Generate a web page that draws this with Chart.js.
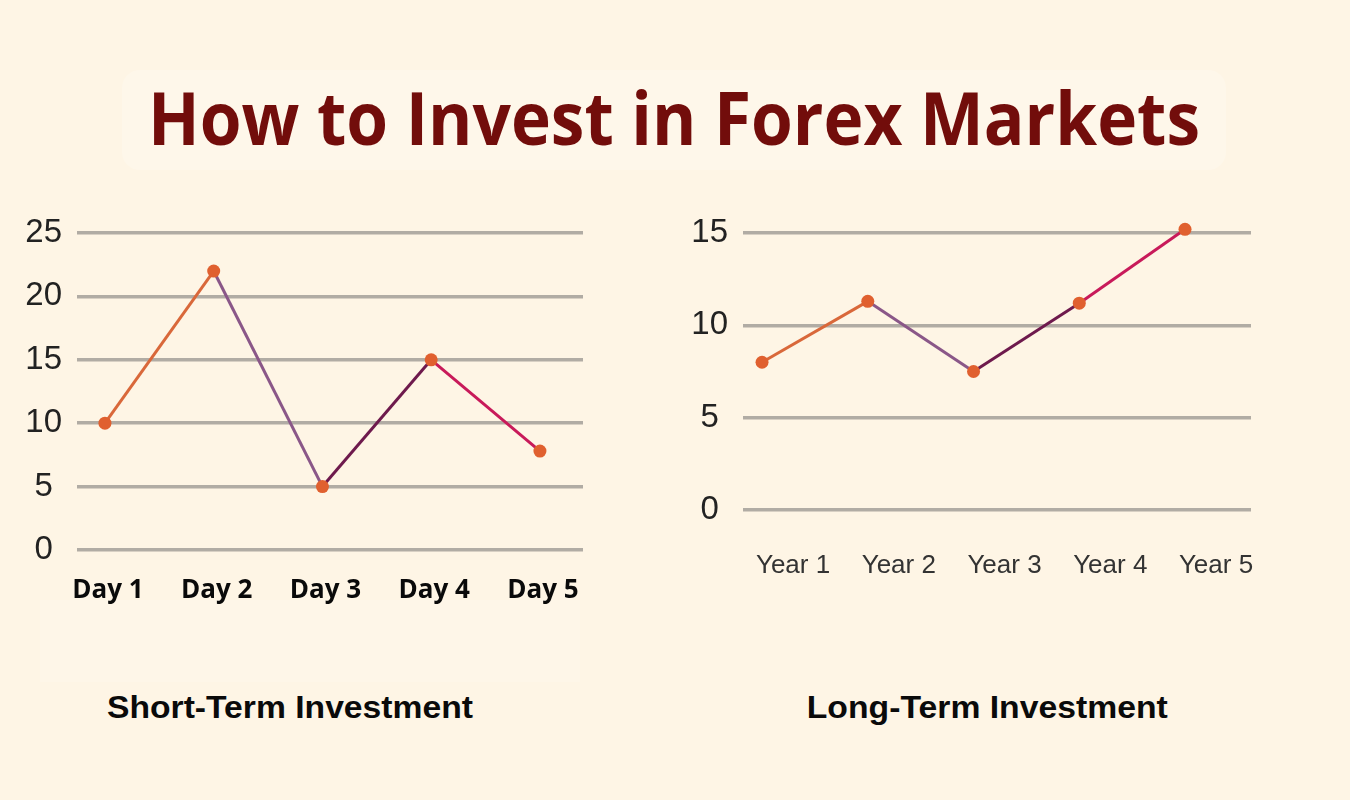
<!DOCTYPE html>
<html>
<head>
<meta charset="utf-8">
<script src="https://cdn.jsdelivr.net/npm/chart.js@4.4.1/dist/chart.umd.min.js"></script>
<style>
  html, body { margin: 0; padding: 0; }
  body { width: 1350px; height: 800px; background: #FEF5E5; position: relative; overflow: hidden; }
  .titlebox { position: absolute; left: 122px; top: 70px; width: 1104px; height: 100px; border-radius: 18px; background: #FEF7EA; }
  .leftbox { position: absolute; left: 40px; top: 600px; width: 540px; height: 82px; background: #FEF6E8; }
  .txt { position: absolute; white-space: nowrap; line-height: 1; transform-origin: center center; }
  #title { font-family: "Open Sans", sans-serif; font-weight: 700; font-size: 74px; color: #720D0B; }
  .sub { font-family: "Liberation Sans", Arial, sans-serif; font-weight: 700; font-size: 32px; color: #0a0a0a; }
  canvas { position: absolute; top: 0; }
</style>
</head>
<body>
<div class="titlebox"></div>
<div class="leftbox"></div>
<div id="title" class="txt">How to Invest in Forex Markets</div>
<canvas id="c1" width="640" height="640" style="left:0px;width:640px;height:640px"></canvas>
<canvas id="c2" width="690" height="640" style="left:660px;width:690px;height:640px"></canvas>
<div id="sub1" class="txt sub">Short-Term Investment</div>
<div id="sub2" class="txt sub">Long-Term Investment</div>
<script>
// ---- data ----
const dayLabels = ['Day 1', 'Day 2', 'Day 3', 'Day 4', 'Day 5'];
const shortValues = [10, 22, 5, 15, 7.8];
const shortTicks = [0, 5, 10, 15, 20, 25];

const yearLabels = ['Year 1', 'Year 2', 'Year 3', 'Year 4', 'Year 5'];
const longValues = [8, 11.3, 7.5, 11.2, 15.2];
const longTicks = [0, 5, 10, 15];

const segColors = ['#D9683A', '#8A5788', '#6E1A4D', '#C81A5A'];
const pointColor = '#E0602F';
const gridColor = '#B1ACA4';

// place a text element: center x, baseline y, target width
function place(id, cx, baseline, targetW) {
  const el = document.getElementById(id);
  const fs = parseFloat(getComputedStyle(el).fontSize);
  const w = el.getBoundingClientRect().width;
  const s = targetW / w;
  el.style.left = (cx - w / 2) + 'px';
  const ctx = document.createElement('canvas').getContext('2d');
  ctx.font = getComputedStyle(el).fontWeight + ' ' + fs + 'px ' + getComputedStyle(el).fontFamily;
  const m = ctx.measureText('H');
  const asc = m.fontBoundingBoxAscent, desc = m.fontBoundingBoxDescent;
  const base = (fs - (asc + desc)) / 2 + asc;
  el.style.top = (baseline - base) + 'px';
  el.style.transform = 'scaleX(' + s + ')';
}
place('title', 674, 145, 1052);
place('sub1', 290, 718, 366);
place('sub2', 987, 718, 361);

function makeChart(id, labels, values, ticks, yMax, xMin, xMax, opts) {
  const data = values.map((v, i) => ({ x: i, y: v }));
  return new Chart(document.getElementById(id), {
    type: 'line',
    data: {
      datasets: [{
        data: data,
        borderWidth: 3,
        borderColor: segColors[0],
        segment: { borderColor: c => segColors[c.p0DataIndex] },
        pointRadius: 6.5,
        pointHoverRadius: 6.5,
        pointBackgroundColor: pointColor,
        pointBorderWidth: 0,
        tension: 0,
        clip: false
      }]
    },
    options: {
      responsive: false,
      animation: false,
      devicePixelRatio: 1,
      events: [],
      layout: { padding: opts.padding },
      plugins: { legend: { display: false }, tooltip: { enabled: false }, title: { display: false } },
      scales: {
        x: {
          type: 'linear',
          min: xMin,
          max: xMax,
          afterBuildTicks: s => { s.ticks = labels.map((_, i) => ({ value: i })); },
          afterFit: s => { s.height = 70; },
          grid: { display: false, drawTicks: false },
          border: { display: false },
          ticks: {
            callback: v => labels[v],
            padding: opts.xPad,
            labelOffset: opts.labelOffset,
            maxRotation: 0,
            autoSkip: false,
            color: opts.xColor,
            font: opts.xFont
          }
        },
        y: {
          min: 0,
          max: yMax,
          afterBuildTicks: s => { s.ticks = ticks.map(v => ({ value: v })); },
          afterFit: s => { s.width = 60; },
          grid: { color: gridColor, lineWidth: 3.5, drawTicks: false },
          border: { display: false },
          ticks: {
            crossAlign: 'center',
            padding: 15,
            color: '#222222',
            font: { family: '"Liberation Sans", Arial, sans-serif', size: 33 }
          }
        }
      }
    }
  });
}

makeChart('c1', dayLabels, shortValues, shortTicks, 25, -0.257, 4.396, {
  padding: { left: 17, right: 57, top: 233, bottom: 20 },
  xPad: 24.5,
  labelOffset: 3,
  xColor: '#0a0a0a',
  xFont: { family: '"Open Sans", sans-serif', size: 26, weight: '700' }
});

makeChart('c2', yearLabels, longValues, longTicks, 15, -0.18, 4.624, {
  padding: { left: 23, right: 99, top: 233, bottom: 60 },
  xPad: 40,
  labelOffset: 31,
  xColor: '#333333',
  xFont: { family: '"Liberation Sans", Arial, sans-serif', size: 26 }
});
</script>
</body>
</html>
